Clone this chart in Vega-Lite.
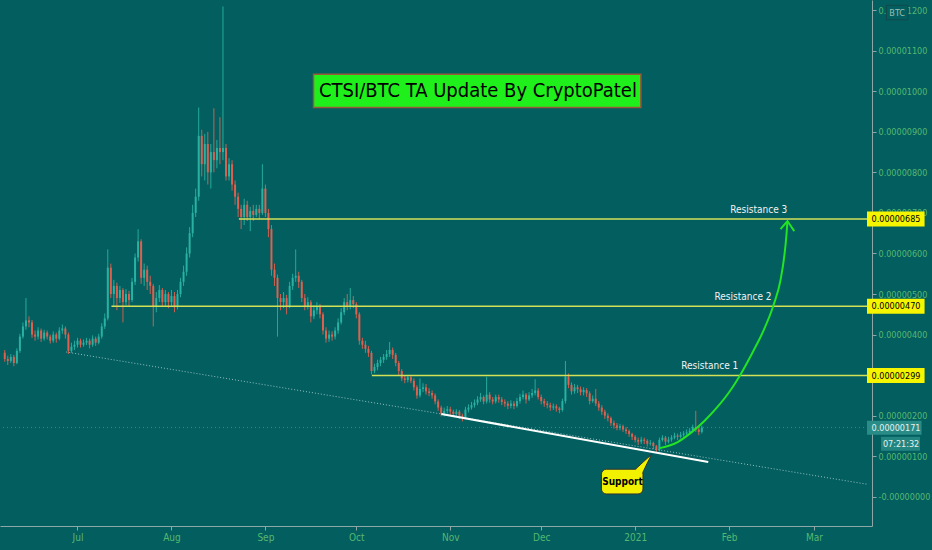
{
"$schema":"https://vega.github.io/schema/vega-lite/v6.json",
"width":872,"height":526,
"autosize":{"type":"none"},
"padding":{"left":0,"top":0,"right":60,"bottom":24},
"background":"#025e5f",
"config":{"view":{"stroke":null},"text":{"font":"Liberation Sans Narrow, DejaVu Sans Condensed, sans-serif"},
 "axis":{"grid":false,"tickSize":4,"labelPadding":2,"domainColor":"#8ea6a6","tickColor":"#8ea6a6","labelColor":"#56b870","labelFontSize":10,"labelFont":"Liberation Sans Narrow, DejaVu Sans Condensed, sans-serif","labelFlush":false}},
"datasets":{
"candles":[
{"t":"2020-06-07","o":355,"h":362,"l":333,"c":340},{"t":"2020-06-08","o":340,"h":348,"l":325,"c":335},{"t":"2020-06-09","o":335,"h":352,"l":330,"c":345},{"t":"2020-06-10","o":345,"h":350,"l":322,"c":330},{"t":"2020-06-11","o":330,"h":366,"l":327,"c":360},{"t":"2020-06-12","o":360,"h":402,"l":355,"c":395},{"t":"2020-06-13","o":395,"h":430,"l":390,"c":420},{"t":"2020-06-14","o":420,"h":490,"l":412,"c":435},{"t":"2020-06-15","o":435,"h":445,"l":418,"c":430},{"t":"2020-06-16","o":430,"h":436,"l":392,"c":400},{"t":"2020-06-17","o":400,"h":410,"l":385,"c":395},{"t":"2020-06-18","o":395,"h":418,"l":388,"c":410},{"t":"2020-06-19","o":410,"h":415,"l":382,"c":390},{"t":"2020-06-20","o":390,"h":412,"l":385,"c":405},{"t":"2020-06-21","o":405,"h":410,"l":388,"c":395},{"t":"2020-06-22","o":395,"h":400,"l":378,"c":385},{"t":"2020-06-23","o":385,"h":408,"l":380,"c":400},{"t":"2020-06-24","o":400,"h":405,"l":380,"c":390},{"t":"2020-06-25","o":390,"h":418,"l":386,"c":410},{"t":"2020-06-26","o":410,"h":425,"l":402,"c":415},{"t":"2020-06-27","o":415,"h":420,"l":390,"c":400},{"t":"2020-06-28","o":400,"h":405,"l":352,"c":360},{"t":"2020-06-29","o":360,"h":380,"l":355,"c":370},{"t":"2020-06-30","o":370,"h":385,"l":362,"c":375},
{"t":"2020-07-01","o":375,"h":392,"l":368,"c":385},{"t":"2020-07-02","o":385,"h":390,"l":368,"c":375},{"t":"2020-07-03","o":375,"h":388,"l":370,"c":380},{"t":"2020-07-04","o":380,"h":392,"l":374,"c":385},{"t":"2020-07-05","o":385,"h":390,"l":366,"c":375},{"t":"2020-07-06","o":375,"h":398,"l":370,"c":390},{"t":"2020-07-07","o":390,"h":395,"l":372,"c":380},{"t":"2020-07-08","o":380,"h":402,"l":376,"c":395},{"t":"2020-07-09","o":395,"h":428,"l":390,"c":420},{"t":"2020-07-10","o":420,"h":452,"l":414,"c":440},{"t":"2020-07-11","o":440,"h":610,"l":435,"c":565},{"t":"2020-07-12","o":565,"h":575,"l":490,"c":500},{"t":"2020-07-13","o":500,"h":535,"l":470,"c":520},{"t":"2020-07-14","o":520,"h":528,"l":460,"c":490},{"t":"2020-07-15","o":490,"h":520,"l":478,"c":510},{"t":"2020-07-16","o":510,"h":515,"l":430,"c":480},{"t":"2020-07-17","o":480,"h":512,"l":472,"c":500},{"t":"2020-07-18","o":500,"h":508,"l":470,"c":485},{"t":"2020-07-19","o":485,"h":540,"l":480,"c":530},{"t":"2020-07-20","o":530,"h":600,"l":522,"c":590},{"t":"2020-07-21","o":590,"h":660,"l":580,"c":630},{"t":"2020-07-22","o":630,"h":635,"l":525,"c":540},{"t":"2020-07-23","o":540,"h":575,"l":520,"c":560},{"t":"2020-07-24","o":560,"h":570,"l":510,"c":530},{"t":"2020-07-25","o":530,"h":545,"l":500,"c":520},{"t":"2020-07-26","o":520,"h":525,"l":420,"c":470},{"t":"2020-07-27","o":470,"h":505,"l":455,"c":490},{"t":"2020-07-28","o":490,"h":522,"l":480,"c":510},{"t":"2020-07-29","o":510,"h":515,"l":470,"c":480},{"t":"2020-07-30","o":480,"h":510,"l":468,"c":500},{"t":"2020-07-31","o":500,"h":505,"l":465,"c":480},
{"t":"2020-08-01","o":480,"h":510,"l":470,"c":495},{"t":"2020-08-02","o":495,"h":505,"l":455,"c":470},{"t":"2020-08-03","o":470,"h":510,"l":462,"c":500},{"t":"2020-08-04","o":500,"h":540,"l":492,"c":530},{"t":"2020-08-05","o":530,"h":570,"l":520,"c":555},{"t":"2020-08-06","o":555,"h":615,"l":545,"c":600},{"t":"2020-08-07","o":600,"h":665,"l":590,"c":650},{"t":"2020-08-08","o":650,"h":720,"l":640,"c":700},{"t":"2020-08-09","o":700,"h":760,"l":690,"c":740},{"t":"2020-08-10","o":740,"h":960,"l":730,"c":890},{"t":"2020-08-11","o":890,"h":905,"l":790,"c":820},{"t":"2020-08-12","o":820,"h":895,"l":780,"c":870},{"t":"2020-08-13","o":870,"h":900,"l":770,"c":800},{"t":"2020-08-14","o":800,"h":870,"l":760,"c":850},{"t":"2020-08-15","o":850,"h":958,"l":800,"c":830},{"t":"2020-08-16","o":830,"h":880,"l":810,"c":860},{"t":"2020-08-17","o":860,"h":936,"l":820,"c":850},{"t":"2020-08-18","o":850,"h":1209,"l":830,"c":860},{"t":"2020-08-19","o":860,"h":870,"l":780,"c":790},{"t":"2020-08-20","o":790,"h":835,"l":780,"c":820},{"t":"2020-08-21","o":820,"h":830,"l":755,"c":770},{"t":"2020-08-22","o":770,"h":780,"l":720,"c":740},{"t":"2020-08-23","o":740,"h":750,"l":690,"c":710},{"t":"2020-08-24","o":710,"h":720,"l":660,"c":690},{"t":"2020-08-25","o":690,"h":735,"l":670,"c":720},{"t":"2020-08-26","o":720,"h":730,"l":680,"c":690},{"t":"2020-08-27","o":690,"h":715,"l":655,"c":705},{"t":"2020-08-28","o":705,"h":720,"l":680,"c":695},{"t":"2020-08-29","o":695,"h":720,"l":690,"c":710},{"t":"2020-08-30","o":710,"h":720,"l":685,"c":700},{"t":"2020-08-31","o":700,"h":820,"l":695,"c":760},
{"t":"2020-09-01","o":760,"h":770,"l":690,"c":700},{"t":"2020-09-02","o":700,"h":710,"l":640,"c":660},{"t":"2020-09-03","o":660,"h":670,"l":545,"c":560},{"t":"2020-09-04","o":560,"h":575,"l":520,"c":540},{"t":"2020-09-05","o":540,"h":548,"l":395,"c":490},{"t":"2020-09-06","o":490,"h":500,"l":460,"c":480},{"t":"2020-09-07","o":480,"h":505,"l":465,"c":490},{"t":"2020-09-08","o":490,"h":498,"l":450,"c":470},{"t":"2020-09-09","o":470,"h":530,"l":465,"c":520},{"t":"2020-09-10","o":520,"h":550,"l":510,"c":540},{"t":"2020-09-11","o":540,"h":610,"l":530,"c":545},{"t":"2020-09-12","o":545,"h":555,"l":515,"c":530},{"t":"2020-09-13","o":530,"h":535,"l":480,"c":490},{"t":"2020-09-14","o":490,"h":500,"l":460,"c":470},{"t":"2020-09-15","o":470,"h":492,"l":462,"c":480},{"t":"2020-09-16","o":480,"h":485,"l":430,"c":445},{"t":"2020-09-17","o":445,"h":472,"l":438,"c":460},{"t":"2020-09-18","o":460,"h":480,"l":450,"c":470},{"t":"2020-09-19","o":470,"h":476,"l":440,"c":450},{"t":"2020-09-20","o":450,"h":455,"l":400,"c":410},{"t":"2020-09-21","o":410,"h":418,"l":380,"c":390},{"t":"2020-09-22","o":390,"h":410,"l":382,"c":400},{"t":"2020-09-23","o":400,"h":408,"l":385,"c":395},{"t":"2020-09-24","o":395,"h":418,"l":388,"c":410},{"t":"2020-09-25","o":410,"h":440,"l":402,"c":430},{"t":"2020-09-26","o":430,"h":465,"l":425,"c":455},{"t":"2020-09-27","o":455,"h":490,"l":448,"c":480},{"t":"2020-09-28","o":480,"h":500,"l":460,"c":470},{"t":"2020-09-29","o":470,"h":515,"l":462,"c":485},{"t":"2020-09-30","o":485,"h":495,"l":465,"c":475},
{"t":"2020-10-01","o":475,"h":480,"l":440,"c":450},{"t":"2020-10-02","o":450,"h":455,"l":375,"c":385},{"t":"2020-10-03","o":385,"h":392,"l":365,"c":375},{"t":"2020-10-04","o":375,"h":385,"l":355,"c":365},{"t":"2020-10-05","o":365,"h":372,"l":345,"c":355},{"t":"2020-10-06","o":355,"h":360,"l":302,"c":310},{"t":"2020-10-07","o":310,"h":328,"l":305,"c":320},{"t":"2020-10-08","o":320,"h":338,"l":312,"c":330},{"t":"2020-10-09","o":330,"h":345,"l":322,"c":338},{"t":"2020-10-10","o":338,"h":352,"l":330,"c":345},{"t":"2020-10-11","o":345,"h":362,"l":338,"c":352},{"t":"2020-10-12","o":352,"h":382,"l":345,"c":362},{"t":"2020-10-13","o":362,"h":368,"l":340,"c":350},{"t":"2020-10-14","o":350,"h":355,"l":322,"c":330},{"t":"2020-10-15","o":330,"h":335,"l":300,"c":310},{"t":"2020-10-16","o":310,"h":315,"l":285,"c":292},{"t":"2020-10-17","o":292,"h":298,"l":280,"c":288},{"t":"2020-10-18","o":288,"h":300,"l":282,"c":295},{"t":"2020-10-19","o":295,"h":300,"l":280,"c":286},{"t":"2020-10-20","o":286,"h":292,"l":262,"c":270},{"t":"2020-10-21","o":270,"h":275,"l":242,"c":250},{"t":"2020-10-22","o":250,"h":292,"l":245,"c":266},{"t":"2020-10-23","o":266,"h":280,"l":258,"c":270},{"t":"2020-10-24","o":270,"h":278,"l":252,"c":260},{"t":"2020-10-25","o":260,"h":268,"l":248,"c":256},{"t":"2020-10-26","o":256,"h":262,"l":242,"c":250},{"t":"2020-10-27","o":250,"h":255,"l":228,"c":235},{"t":"2020-10-28","o":235,"h":240,"l":212,"c":220},{"t":"2020-10-29","o":220,"h":225,"l":198,"c":205},{"t":"2020-10-30","o":205,"h":220,"l":198,"c":212},{"t":"2020-10-31","o":212,"h":224,"l":205,"c":216},
{"t":"2020-11-01","o":216,"h":222,"l":202,"c":210},{"t":"2020-11-02","o":210,"h":215,"l":196,"c":204},{"t":"2020-11-03","o":204,"h":216,"l":198,"c":210},{"t":"2020-11-04","o":210,"h":214,"l":192,"c":200},{"t":"2020-11-05","o":200,"h":205,"l":186,"c":196},{"t":"2020-11-06","o":196,"h":222,"l":192,"c":215},{"t":"2020-11-07","o":215,"h":228,"l":208,"c":220},{"t":"2020-11-08","o":220,"h":234,"l":215,"c":226},{"t":"2020-11-09","o":226,"h":240,"l":220,"c":232},{"t":"2020-11-10","o":232,"h":248,"l":226,"c":240},{"t":"2020-11-11","o":240,"h":256,"l":234,"c":246},{"t":"2020-11-12","o":246,"h":250,"l":228,"c":235},{"t":"2020-11-13","o":235,"h":296,"l":230,"c":252},{"t":"2020-11-14","o":252,"h":258,"l":232,"c":240},{"t":"2020-11-15","o":240,"h":246,"l":228,"c":235},{"t":"2020-11-16","o":235,"h":252,"l":230,"c":246},{"t":"2020-11-17","o":246,"h":252,"l":232,"c":240},{"t":"2020-11-18","o":240,"h":246,"l":226,"c":234},{"t":"2020-11-19","o":234,"h":240,"l":222,"c":230},{"t":"2020-11-20","o":230,"h":236,"l":216,"c":224},{"t":"2020-11-21","o":224,"h":238,"l":218,"c":230},{"t":"2020-11-22","o":230,"h":236,"l":216,"c":224},{"t":"2020-11-23","o":224,"h":244,"l":220,"c":236},{"t":"2020-11-24","o":236,"h":254,"l":230,"c":246},{"t":"2020-11-25","o":246,"h":262,"l":240,"c":252},{"t":"2020-11-26","o":252,"h":256,"l":230,"c":240},{"t":"2020-11-27","o":240,"h":258,"l":236,"c":250},{"t":"2020-11-28","o":250,"h":266,"l":244,"c":256},{"t":"2020-11-29","o":256,"h":290,"l":250,"c":262},{"t":"2020-11-30","o":262,"h":268,"l":240,"c":246},
{"t":"2020-12-01","o":246,"h":252,"l":228,"c":236},{"t":"2020-12-02","o":236,"h":242,"l":222,"c":230},{"t":"2020-12-03","o":230,"h":236,"l":218,"c":226},{"t":"2020-12-04","o":226,"h":232,"l":212,"c":220},{"t":"2020-12-05","o":220,"h":230,"l":214,"c":223},{"t":"2020-12-06","o":223,"h":228,"l":210,"c":218},{"t":"2020-12-07","o":218,"h":222,"l":206,"c":214},{"t":"2020-12-08","o":214,"h":242,"l":210,"c":236},{"t":"2020-12-09","o":236,"h":335,"l":230,"c":296},{"t":"2020-12-10","o":296,"h":304,"l":268,"c":276},{"t":"2020-12-11","o":276,"h":282,"l":252,"c":260},{"t":"2020-12-12","o":260,"h":278,"l":254,"c":270},{"t":"2020-12-13","o":270,"h":276,"l":256,"c":265},{"t":"2020-12-14","o":265,"h":272,"l":250,"c":258},{"t":"2020-12-15","o":258,"h":270,"l":250,"c":263},{"t":"2020-12-16","o":263,"h":268,"l":246,"c":255},{"t":"2020-12-17","o":255,"h":260,"l":228,"c":236},{"t":"2020-12-18","o":236,"h":250,"l":232,"c":242},{"t":"2020-12-19","o":242,"h":266,"l":224,"c":230},{"t":"2020-12-20","o":230,"h":236,"l":212,"c":220},{"t":"2020-12-21","o":220,"h":226,"l":202,"c":210},{"t":"2020-12-22","o":210,"h":215,"l":192,"c":200},{"t":"2020-12-23","o":200,"h":206,"l":186,"c":194},{"t":"2020-12-24","o":194,"h":198,"l":175,"c":182},{"t":"2020-12-25","o":182,"h":188,"l":168,"c":176},{"t":"2020-12-26","o":176,"h":182,"l":164,"c":170},{"t":"2020-12-27","o":170,"h":180,"l":164,"c":174},{"t":"2020-12-28","o":174,"h":178,"l":160,"c":166},{"t":"2020-12-29","o":166,"h":172,"l":155,"c":162},{"t":"2020-12-30","o":162,"h":166,"l":148,"c":155},{"t":"2020-12-31","o":155,"h":158,"l":140,"c":148},
{"t":"2021-01-01","o":148,"h":152,"l":134,"c":140},{"t":"2021-01-02","o":140,"h":146,"l":128,"c":136},{"t":"2021-01-03","o":136,"h":148,"l":130,"c":141},{"t":"2021-01-04","o":141,"h":146,"l":130,"c":138},{"t":"2021-01-05","o":138,"h":142,"l":124,"c":131},{"t":"2021-01-06","o":131,"h":140,"l":126,"c":133},{"t":"2021-01-07","o":133,"h":136,"l":118,"c":125},{"t":"2021-01-08","o":125,"h":128,"l":109,"c":116},{"t":"2021-01-09","o":116,"h":146,"l":112,"c":140},{"t":"2021-01-10","o":140,"h":152,"l":136,"c":146},{"t":"2021-01-11","o":146,"h":150,"l":128,"c":136},{"t":"2021-01-12","o":136,"h":148,"l":132,"c":141},{"t":"2021-01-13","o":141,"h":152,"l":136,"c":146},{"t":"2021-01-14","o":146,"h":158,"l":142,"c":151},{"t":"2021-01-15","o":151,"h":156,"l":140,"c":148},{"t":"2021-01-16","o":148,"h":160,"l":144,"c":153},{"t":"2021-01-17","o":153,"h":162,"l":148,"c":156},{"t":"2021-01-18","o":156,"h":166,"l":150,"c":159},{"t":"2021-01-19","o":159,"h":170,"l":154,"c":163},{"t":"2021-01-20","o":163,"h":178,"l":158,"c":172},{"t":"2021-01-21","o":172,"h":212,"l":160,"c":166},{"t":"2021-01-22","o":166,"h":172,"l":152,"c":160},{"t":"2021-01-23","o":160,"h":176,"l":156,"c":171}
]},
"layer":[
{"data":{"name":"candles"},"mark":{"type":"rule","strokeWidth":1},
 "encoding":{
  "x":{"field":"t","type":"temporal","scale":{"type":"utc","domain":[{"year":2020,"month":6,"date":7,"hours":2,"utc":true},{"year":2021,"month":3,"date":18,"hours":12,"utc":true}],"nice":false},
   "axis":{"title":null,"grid":false,"values":[{"year":2020,"month":7,"date":1,"utc":true},{"year":2020,"month":8,"date":1,"utc":true},{"year":2020,"month":9,"date":1,"utc":true},{"year":2020,"month":10,"date":1,"utc":true},{"year":2020,"month":11,"date":1,"utc":true},{"year":2020,"month":12,"date":1,"utc":true},{"year":2021,"month":1,"date":1,"utc":true},{"year":2021,"month":2,"date":1,"utc":true},{"year":2021,"month":3,"date":1,"utc":true}],
   "labelExpr":"utcFormat(datum.value, '%m') == '01' ? utcFormat(datum.value, '%Y') : utcFormat(datum.value, '%b')"}},
  "y":{"field":"l","type":"quantitative","scale":{"domain":[-72,1225],"nice":false,"zero":false},
   "axis":{"orient":"right","title":null,"grid":false,"labelFontSize":9,"values":[0,100,200,400,500,600,700,800,900,1000,1100,1200],
   "labelExpr":"datum.value == 0 ? '-0.00000000' : format(datum.value/100000000, '.8f')"}},
  "y2":{"field":"h"},
  "color":{"condition":{"test":"datum.c >= datum.o","value":"#2ab3a3"},"value":"#e4604f"},
  "opacity":{"value":0.9}}},
{"data":{"values":[{"p":171}]},"mark":{"type":"rule","color":"#2ea39c","strokeDash":[1,3],"strokeWidth":1,"opacity":0.8},
 "encoding":{"y":{"field":"p","type":"quantitative"}}},
{"data":{"values":[{"a":"2020-06-27T07:00Z","b":"2021-03-18T12:00Z","v1":357,"v2":31}]},
 "mark":{"type":"rule","color":"#c9dede","strokeDash":[1,2],"strokeWidth":1,"opacity":0.75},
 "encoding":{"x":{"field":"a","type":"temporal"},"x2":{"field":"b"},"y":{"field":"v1","type":"quantitative"},"y2":{"field":"v2"}}},
{"data":{"name":"candles"},"mark":{"type":"bar","size":2},
 "encoding":{"x":{"field":"t","type":"temporal"},"y":{"field":"o","type":"quantitative"},"y2":{"field":"c"},
  "color":{"condition":{"test":"datum.c >= datum.o","value":"#2ab3a3"},"value":"#e4604f"},"opacity":{"value":0.95}}},
{"data":{"values":[{"a":"2020-07-12T05:00Z","b":"2021-03-18T12:00Z","v":470},{"a":"2020-08-23T06:00Z","b":"2021-03-18T12:00Z","v":685},{"a":"2020-10-06T03:00Z","b":"2021-03-18T12:00Z","v":299}]},
 "mark":{"type":"rule","color":"#d4e157","strokeWidth":1.5},
 "encoding":{"x":{"field":"a","type":"temporal"},"x2":{"field":"b"},"y":{"field":"v","type":"quantitative"}}},
{"data":{"values":[{"a":"2020-10-29T01:00Z","b":"2021-01-25T03:00Z","v1":204,"v2":86}]},
 "mark":{"type":"rule","color":"#ffffff","strokeWidth":2},
 "encoding":{"x":{"field":"a","type":"temporal"},"x2":{"field":"b"},"y":{"field":"v1","type":"quantitative"},"y2":{"field":"v2"}}},
{"data":{"values":[{"t":"2021-01-09T04:00Z","v":120},{"t":"2021-01-15T01:00Z","v":135},{"t":"2021-01-19T06:00Z","v":157},{"t":"2021-01-23T20:00Z","v":187},{"t":"2021-01-28T02:00Z","v":221},{"t":"2021-02-01T07:00Z","v":261},{"t":"2021-02-05T06:00Z","v":308},{"t":"2021-02-09T04:00Z","v":362},{"t":"2021-02-12T10:00Z","v":411},{"t":"2021-02-15T16:00Z","v":473},{"t":"2021-02-17T23:00Z","v":534},{"t":"2021-02-19T06:00Z","v":596},{"t":"2021-02-19T22:00Z","v":645},{"t":"2021-02-20T06:00Z","v":680}]},
 "mark":{"type":"line","color":"#22e324","strokeWidth":2,"interpolate":"monotone"},
 "encoding":{"x":{"field":"t","type":"temporal"},"y":{"field":"v","type":"quantitative"}}},
{"data":{"values":[{"t":"2021-02-17T23:00Z","v":660},{"t":"2021-02-20T06:00Z","v":680},{"t":"2021-02-22T12:00Z","v":655}]},
 "mark":{"type":"line","color":"#22e324","strokeWidth":2},
 "encoding":{"x":{"field":"t","type":"temporal"},"y":{"field":"v","type":"quantitative"}}},
{"data":{"values":[{"t":"2021-02-10T19:00Z","v":707,"s":"Resistance 3"},{"t":"2021-02-05T14:00Z","v":492,"s":"Resistance 2"},{"t":"2021-01-25T15:00Z","v":322,"s":"Resistance 1"}]},
 "mark":{"type":"text","color":"#f2f2f2","fontSize":10,"align":"center","baseline":"middle"},
 "encoding":{"x":{"field":"t","type":"temporal"},"y":{"field":"v","type":"quantitative"},"text":{"field":"s"}}},
{"data":{"values":[{"a":"2020-09-16T21:00Z","b":"2021-01-02T21:00Z","v1":1042,"v2":960}]},
 "mark":{"type":"rect","fill":"#1ff01c","stroke":"#9a5a3a","strokeWidth":1.5},
 "encoding":{"x":{"field":"a","type":"temporal"},"x2":{"field":"b"},"y":{"field":"v1","type":"quantitative"},"y2":{"field":"v2"}}},
{"data":{"values":[{"t":"2020-11-10T03:00Z","v":1000,"s":"CTSI/BTC TA Update By CryptoPatel"}]},
 "mark":{"type":"text","color":"#000000","fontSize":20,"align":"center","baseline":"middle"},
 "encoding":{"x":{"field":"t","type":"temporal"},"y":{"field":"v","type":"quantitative"},"text":{"field":"s"}}},
{"data":{"values":[{"t":"2020-12-31T08:00Z","v":63,"v2":63},{"t":"2021-01-03T14:00Z","v":85,"v2":63},{"t":"2021-01-06T12:00Z","v":105,"v2":105}]},
 "mark":{"type":"area","fill":"#f2f200","stroke":"#333333","strokeWidth":1},
 "encoding":{"x":{"field":"t","type":"temporal"},"y":{"field":"v","type":"quantitative"},"y2":{"field":"v2"}}},
{"data":{"values":[{"a":"2020-12-20T21:00Z","b":"2021-01-03T14:00Z","v1":68,"v2":7}]},
 "mark":{"type":"rect","fill":"#f2f200","stroke":"#333333","strokeWidth":1,"cornerRadius":5},
 "encoding":{"x":{"field":"a","type":"temporal"},"x2":{"field":"b"},"y":{"field":"v1","type":"quantitative"},"y2":{"field":"v2"}}},
{"data":{"values":[{"t":"2020-12-31T20:00Z","v":64,"v2":58},{"t":"2021-01-03T06:00Z","v":80,"v2":58},{"t":"2021-01-05T12:00Z","v":96,"v2":96}]},
 "mark":{"type":"area","fill":"#f2f200"},
 "encoding":{"x":{"field":"t","type":"temporal"},"y":{"field":"v","type":"quantitative"},"y2":{"field":"v2"}}},
{"data":{"values":[{"t":"2020-12-27T20:00Z","v":37,"s":"Support"}]},
 "mark":{"type":"text","color":"#000000","fontSize":10,"fontWeight":"bold","align":"center","baseline":"middle"},
 "encoding":{"x":{"field":"t","type":"temporal"},"y":{"field":"v","type":"quantitative"},"text":{"field":"s"}}},
{"data":{"values":[{"a":"2021-03-18T12:00Z","b":"2021-04-06T12:00Z","v":685},{"a":"2021-03-18T12:00Z","b":"2021-04-06T12:00Z","v":470},{"a":"2021-03-18T12:00Z","b":"2021-04-06T12:00Z","v":299}]},
 "mark":{"type":"rect","fill":"#f5f500","height":15},
 "encoding":{"x":{"field":"a","type":"temporal"},"x2":{"field":"b"},"y":{"field":"v","type":"quantitative"}}},
{"data":{"values":[{"a":"2021-03-18T12:00Z","b":"2021-04-05T12:00Z","v":170}]},
 "mark":{"type":"rect","fill":"#2a8c87","height":14},
 "encoding":{"x":{"field":"a","type":"temporal"},"x2":{"field":"b"},"y":{"field":"v","type":"quantitative"}}},
{"data":{"values":[{"a":"2021-03-23T03:00Z","b":"2021-04-05T00:00Z","v":131}]},
 "mark":{"type":"rect","fill":"#238580","height":14},
 "encoding":{"x":{"field":"a","type":"temporal"},"x2":{"field":"b"},"y":{"field":"v","type":"quantitative"}}},
{"data":{"values":[{"t":"2021-03-20T00:00Z","v":685,"s":"0.00000685"},{"t":"2021-03-20T00:00Z","v":470,"s":"0.00000470"},{"t":"2021-03-20T00:00Z","v":299,"s":"0.00000299"}]},
 "mark":{"type":"text","color":"#000000","fontSize":9,"align":"left","baseline":"middle"},
 "encoding":{"x":{"field":"t","type":"temporal"},"y":{"field":"v","type":"quantitative"},"text":{"field":"s"}}},
{"data":{"values":[{"t":"2021-03-20T00:00Z","v":170,"s":"0.00000171"},{"t":"2021-03-23T18:00Z","v":131,"s":"07:21:32"}]},
 "mark":{"type":"text","color":"#e6f2f0","fontSize":9,"align":"left","baseline":"middle"},
 "encoding":{"x":{"field":"t","type":"temporal"},"y":{"field":"v","type":"quantitative"},"text":{"field":"s"}}},
{"data":{"values":[{"a":"2021-03-24T22:00Z","b":"2021-04-01T00:00Z","v1":1212,"v2":1176}]},
 "mark":{"type":"rect","fill":"#025e5f","stroke":"#14494b","strokeWidth":1},
 "encoding":{"x":{"field":"a","type":"temporal"},"x2":{"field":"b"},"y":{"field":"v1","type":"quantitative"},"y2":{"field":"v2"}}},
{"data":{"values":[{"t":"2021-03-28T11:00Z","v":1194,"s":"BTC"}]},
 "mark":{"type":"text","color":"#9fbfb3","fontSize":9,"align":"center","baseline":"middle"},
 "encoding":{"x":{"field":"t","type":"temporal"},"y":{"field":"v","type":"quantitative"},"text":{"field":"s"}}}
]
}
